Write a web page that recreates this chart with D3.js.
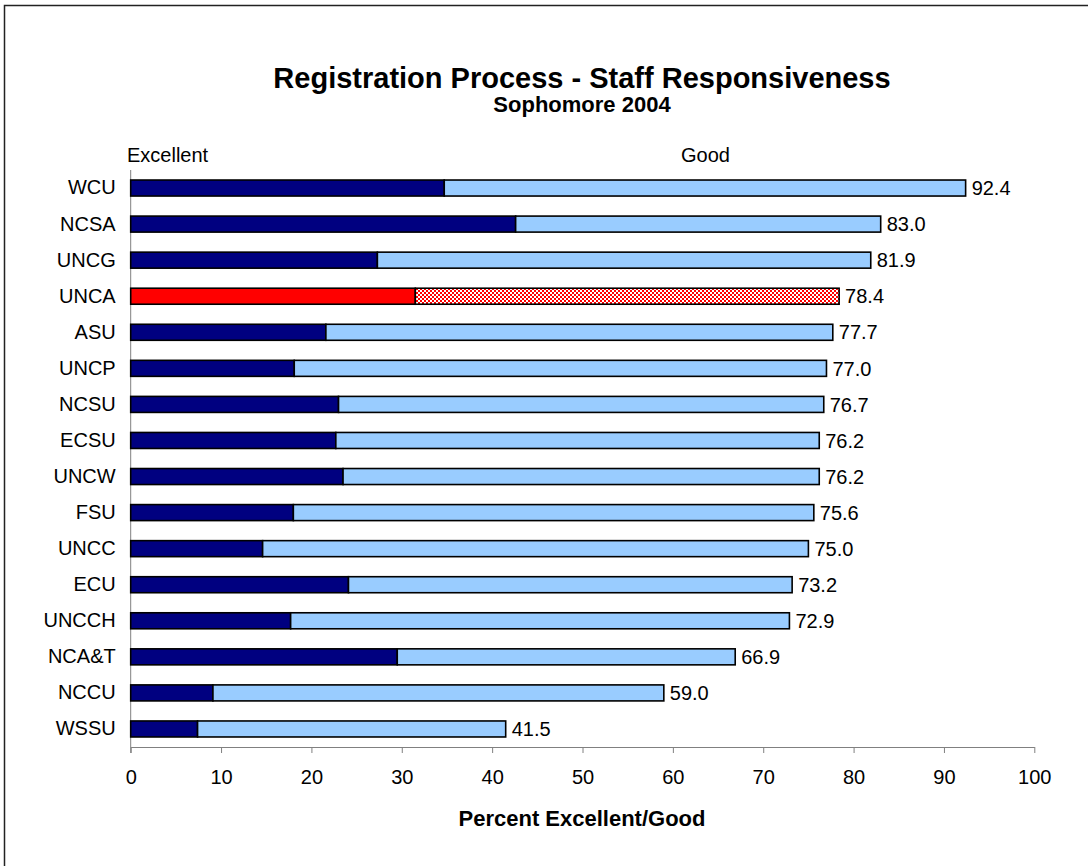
<!DOCTYPE html>
<html><head><meta charset="utf-8">
<script src="https://cdn.jsdelivr.net/npm/d3@7"></script>
<style>body{margin:0;background:#fff}svg{display:block;font-family:Arial,"Liberation Sans",sans-serif}</style>
</head><body><svg id="c" width="1088" height="866"></svg>
<script>
const categories = ["WCU","NCSA","UNCG","UNCA","ASU","UNCP","NCSU","ECSU","UNCW","FSU","UNCC","ECU","UNCCH","NCA&T","NCCU","WSSU"];
const excellent = [34.7,42.6,27.3,31.5,21.6,18.1,23.0,22.7,23.5,18.0,14.6,24.1,17.7,29.5,9.1,7.4];
const total = [92.4,83.0,81.9,78.4,77.7,77.0,76.7,76.2,76.2,75.6,75.0,73.2,72.9,66.9,59.0,41.5];
const good = total.map((t,i)=>+(t-excellent[i]).toFixed(1));
const xTicks = [0,10,20,30,40,50,60,70,80,90,100];
const highlight = "UNCA";

const FONT = "Arial,'Liberation Sans',sans-serif";
const svg = d3.select("#c");
const defs = svg.append("defs");
const pat = defs.append("pattern").attr("id","chk").attr("patternUnits","userSpaceOnUse").attr("width",4).attr("height",4);
pat.append("rect").attr("width",4).attr("height",4).attr("fill","#fff");
pat.append("rect").attr("width",2).attr("height",2).attr("fill","#f00");
pat.append("rect").attr("x",2).attr("y",2).attr("width",2).attr("height",2).attr("fill","#f00");

// outer frame (top/left visible)
svg.append("rect").attr("x",4.5).attr("y",5.5).attr("width",1200).attr("height",1000).attr("fill","none").attr("stroke","#222").attr("stroke-width",1.5);

const x = d3.scaleLinear().domain([0,100]).range([130.7,1034.3]);
const y = d3.scaleBand().domain(categories).range([170,747]).paddingInner(0.556).paddingOuter(0.278);

svg.append("text").attr("x",582).attr("y",88).attr("text-anchor","middle").attr("font-size",29).attr("font-weight","bold").text("Registration Process - Staff Responsiveness");
svg.append("text").attr("x",582).attr("y",112).attr("text-anchor","middle").attr("font-size",22).attr("font-weight","bold").text("Sophomore 2004");

// x axis
const xa = svg.append("g").attr("transform","translate(0,747)").call(d3.axisBottom(x).tickValues(xTicks).tickSize(6).tickSizeOuter(0).tickPadding(17));
xa.select(".domain").attr("stroke","#808080");
xa.selectAll(".tick line").attr("stroke","#808080");
xa.selectAll(".tick text").attr("font-size",20).attr("fill","#000").attr("font-family",FONT);

// y axis
const ya = svg.append("g").attr("transform","translate(130.7,0)").call(d3.axisLeft(y).tickSize(0).tickPadding(15));
ya.select(".domain").attr("stroke","#808080").attr("d","M0,170V753");
ya.selectAll(".tick text").attr("font-size",20).attr("fill","#000").attr("font-family",FONT);

// bars
const g = svg.append("g");
categories.forEach((c,i)=>{
  const hl = c===highlight;
  g.append("rect").attr("x",x(0)).attr("y",y(c)).attr("width",x(excellent[i])-x(0)).attr("height",y.bandwidth())
    .attr("fill",hl?"#ff0000":"#000080").attr("stroke","#000").attr("stroke-width",1.6);
  g.append("rect").attr("x",x(excellent[i])).attr("y",y(c)).attr("width",x(excellent[i]+good[i])-x(excellent[i])).attr("height",y.bandwidth())
    .attr("fill",hl?"url(#chk)":"#99ccff").attr("stroke","#000").attr("stroke-width",1.6);
  g.append("text").attr("x",x(total[i])+6).attr("y",y(c)+y.bandwidth()/2).attr("dy","0.36em").attr("font-size",20).text(total[i].toFixed(1));
});

svg.append("text").attr("x",127).attr("y",162).attr("font-size",20).text("Excellent");
svg.append("text").attr("x",681).attr("y",162).attr("font-size",20).text("Good");
svg.append("text").attr("x",582).attr("y",826).attr("text-anchor","middle").attr("font-size",22).attr("font-weight","bold").text("Percent Excellent/Good");
</script></body></html>
